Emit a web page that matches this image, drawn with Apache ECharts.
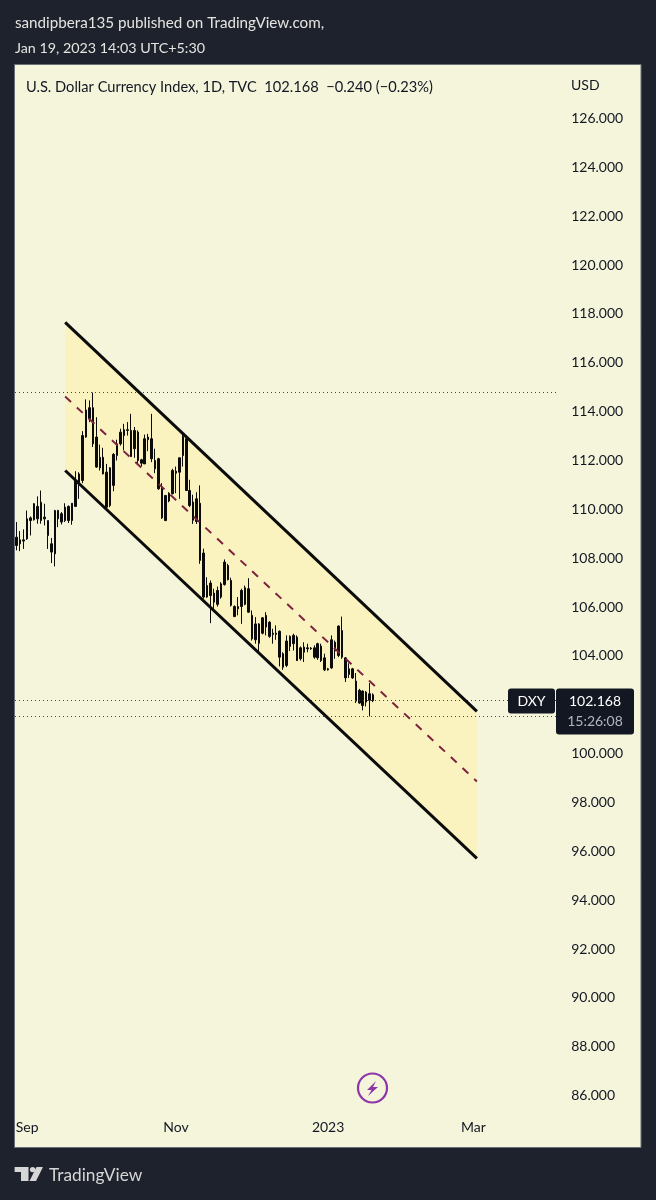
<!DOCTYPE html>
<html><head><meta charset="utf-8">
<style>html,body{margin:0;padding:0;background:#1e222d}#c{width:656px;height:1200px}</style>
<script src="https://cdn.jsdelivr.net/npm/echarts@6/dist/echarts.min.js"></script>
</head><body><div id="c"></div>
<script>
const categories = [
'2022-08-29','2022-08-30','2022-08-31',
'2022-09-01','2022-09-02','2022-09-05','2022-09-06','2022-09-07','2022-09-08','2022-09-09','2022-09-12','2022-09-13','2022-09-14','2022-09-15','2022-09-16','2022-09-19','2022-09-20','2022-09-21','2022-09-22','2022-09-23','2022-09-26','2022-09-27','2022-09-28','2022-09-29','2022-09-30',
'2022-10-03','2022-10-04','2022-10-05','2022-10-06','2022-10-07','2022-10-10','2022-10-11','2022-10-12','2022-10-13','2022-10-14','2022-10-17','2022-10-18','2022-10-19','2022-10-20','2022-10-21','2022-10-24','2022-10-25','2022-10-26','2022-10-27','2022-10-28','2022-10-31',
'2022-11-01','2022-11-02','2022-11-03','2022-11-04','2022-11-07','2022-11-08','2022-11-09','2022-11-10','2022-11-11','2022-11-14','2022-11-15','2022-11-16','2022-11-17','2022-11-18','2022-11-21','2022-11-22','2022-11-23','2022-11-24','2022-11-25','2022-11-28','2022-11-29','2022-11-30',
'2022-12-01','2022-12-02','2022-12-05','2022-12-06','2022-12-07','2022-12-08','2022-12-09','2022-12-12','2022-12-13','2022-12-14','2022-12-15','2022-12-16','2022-12-19','2022-12-20','2022-12-21','2022-12-22','2022-12-23','2022-12-26','2022-12-27','2022-12-28','2022-12-29','2022-12-30',
'2023-01-02','2023-01-03','2023-01-04','2023-01-05','2023-01-06','2023-01-09','2023-01-10','2023-01-11','2023-01-12','2023-01-13','2023-01-16','2023-01-17','2023-01-18','2023-01-19','2023-01-20','2023-01-23','2023-01-24','2023-01-25','2023-01-26','2023-01-27','2023-01-30','2023-01-31',
'2023-02-01','2023-02-02','2023-02-03','2023-02-06','2023-02-07','2023-02-08','2023-02-09','2023-02-10','2023-02-13','2023-02-14','2023-02-15','2023-02-16','2023-02-17','2023-02-20','2023-02-21','2023-02-22','2023-02-23','2023-02-24','2023-02-27','2023-02-28',
'2023-03-01','2023-03-02','2023-03-03','2023-03-06','2023-03-07','2023-03-08','2023-03-09','2023-03-10','2023-03-13','2023-03-14','2023-03-15','2023-03-16','2023-03-17','2023-03-20','2023-03-21','2023-03-22','2023-03-23','2023-03-24','2023-03-27','2023-03-28','2023-03-29','2023-03-30','2023-03-31',
'2023-04-03','2023-04-04'];
const opens = [108.86,108.59,108.75,108.79,109.54,109.57,110.12,109.54,109.68,109.54,108.59,108.18,109.95,109.48,109.54,110.12,109.54,110.12,111.45,111.18,112.96,113.71,114.16,112.96,111.70,112.13,111.52,110.16,110.98,112.20,112.68,113.26,113.26,113.23,112.48,113.16,111.89,111.86,112.85,112.89,112.00,112.07,110.91,109.54,110.34,110.64,111.48,111.52,112.20,112.89,110.77,109.55,110.43,110.25,108.21,106.41,106.98,106.57,106.11,106.41,106.92,107.70,107.09,106.02,105.93,106.02,106.79,106.75,105.66,104.66,104.52,105.56,105.18,105.38,104.88,104.93,105.01,103.54,103.61,104.39,104.84,104.77,103.88,104.15,104.33,104.32,104.33,103.92,104.40,103.92,103.47,103.51,104.56,104.02,105.04,103.92,103.24,103.47,102.97,102.07,102.56,102.11,102.45,102.41];
const closes = [108.52,108.75,108.70,109.61,109.65,110.23,109.61,110.29,109.61,108.93,108.25,109.95,109.61,109.82,110.09,109.54,110.25,111.18,111.11,113.02,114.07,114.16,112.68,111.73,112.13,111.45,110.09,111.70,112.25,112.68,113.16,113.02,113.23,112.16,113.23,112.00,112.03,112.89,112.96,112.07,111.66,110.84,109.65,110.57,110.66,111.59,111.56,112.11,112.98,110.77,110.16,110.30,109.50,107.91,106.41,106.88,106.47,106.20,106.68,106.95,107.84,107.12,106.07,105.61,106.02,106.68,106.11,105.79,104.70,105.31,105.31,104.93,105.66,104.80,104.93,104.88,103.95,104.09,104.61,104.80,104.50,103.81,104.33,104.36,104.29,104.29,103.95,104.50,103.81,103.43,103.43,104.66,104.20,105.22,103.95,103.10,103.47,103.10,102.15,102.59,101.97,102.52,102.18,102.168];
const lows = [108.32,108.29,108.38,108.75,108.93,109.54,109.41,109.41,109.34,108.38,107.80,107.66,109.27,109.38,109.48,109.44,109.37,110.12,110.43,111.07,112.93,113.57,112.55,111.70,111.59,111.43,110.06,110.09,110.74,112.00,112.61,112.41,113.02,112.14,112.11,111.84,111.75,111.86,112.38,111.93,111.48,110.80,109.61,109.52,110.29,110.61,110.66,110.43,111.75,110.77,110.09,109.40,109.40,107.77,106.34,106.38,105.34,105.86,106.02,106.34,106.88,107.09,106.02,105.59,105.66,105.31,106.07,105.77,104.63,104.50,104.11,104.88,104.84,104.74,104.50,104.66,103.57,103.43,103.54,104.20,104.22,103.79,103.81,103.75,104.15,104.25,103.88,103.84,103.75,103.38,103.40,103.47,103.88,103.95,103.88,102.93,103.10,103.06,102.07,102.04,101.77,101.93,101.52,102.11];
const highs = [109.48,109.11,109.18,109.95,109.71,110.25,110.53,110.77,110.23,109.54,108.83,109.98,109.98,109.89,110.25,110.16,110.25,111.56,111.52,113.20,114.50,114.46,114.78,113.77,112.65,112.52,111.86,111.73,112.30,112.85,113.30,113.50,113.57,113.91,113.37,113.23,112.07,113.06,113.09,113.91,112.48,112.11,111.07,110.57,110.70,111.66,111.75,112.11,113.09,113.02,111.21,110.60,110.70,110.98,108.39,107.22,107.09,106.75,106.84,107.02,107.95,107.77,107.20,106.07,106.41,106.75,106.88,107.18,105.86,105.59,105.34,105.59,105.79,105.42,105.11,105.25,105.04,104.15,104.84,104.84,104.91,104.84,104.39,104.56,104.50,104.36,104.43,104.54,104.50,104.09,103.51,104.84,104.63,105.25,105.61,103.95,103.70,103.51,103.30,102.65,102.59,102.56,102.89,102.47];
const tickDates = ['2022-09-01','2022-11-01','2023-01-02','2023-03-01'];
const tickLabels = ['Sep','Nov','2023','Mar'];
const channelX = [14,133];
const channelUpper = [117.65,101.73];
const channelMid = [114.62,98.86];
const channelLower = [111.59,95.71];
const levelLines = [114.78,102.168,101.52];

const FONT = 'Lato';
const txt = (x,y,text,size,fill,align) => ({type:'text',x,y,z:20,style:{text,fontFamily:FONT,fontSize:size,fill,align:align||'left',verticalAlign:'middle'}});
const lineSeries = (vals,style) => ({type:'line',z:5,silent:true,symbol:'none',lineStyle:style,
  data:channelX.map((x,i)=>[x,vals[i]]),animation:false});

const chart = echarts.init(document.getElementById('c'),null,{renderer:'canvas'});
chart.setOption({
  animation:false,
  backgroundColor:'#1e222d',
  grid:{left:15,top:69.6,width:543.2,height:1074.9,containLabel:false},
  xAxis:{type:'category',data:categories,boundaryGap:true,
    axisLine:{show:false},axisTick:{show:false},splitLine:{show:false},
    axisLabel:{inside:true,margin:10,color:'#131722',fontFamily:FONT,fontSize:14,
      interval:(i,v)=>tickDates.includes(v),
      formatter:v=>tickLabels[tickDates.indexOf(v)]}},
  yAxis:{type:'value',position:'right',min:84,max:128,interval:2,
    axisLine:{show:false},axisTick:{show:false},splitLine:{show:false},
    axisLabel:{margin:13,color:'#131722',fontFamily:FONT,fontSize:14,showMinLabel:false,showMaxLabel:false,
      formatter:v=>v.toFixed(3)}},
  graphic:[
    {type:'rect',z:-1,shape:{x:14.5,y:64.5,width:626.5,height:1083},style:{fill:'#f5f5dc',stroke:'#6b6f78',lineWidth:1}},
    txt(15,23,'sandipbera135 published on TradingView.com,',15.2,'#e4e4e0'),
    txt(15,48,'Jan 19, 2023 14:03 UTC+5:30',14.3,'#e4e4e0'),
    txt(26,87,'U.S. Dollar Currency Index, 1D, TVC  102.168  \u22120.240 (\u22120.23%)',14.65,'#131722'),
    txt(571,85,'USD',14,'#131722'),
    {type:'rect',z:18,shape:{x:508,y:688.5,width:47,height:25,r:3},style:{fill:'#131722'}},
    {type:'rect',z:18,shape:{x:556,y:688.5,width:78,height:46,r:3},style:{fill:'#131722'}},
    txt(531.5,701,'DXY',14,'#ffffff','center'),
    txt(595,701,'102.168',14,'#ffffff','center'),
    txt(595,721,'15:26:08',14,'#b2b5be','center'),
    {type:'circle',z:15,shape:{cx:372.5,cy:1088,r:14.5},style:{fill:'#f5f5dc',stroke:'#8e35a8',lineWidth:2.2}},
    {type:'polygon',z:16,shape:{points:[[376,1081],[367,1090],[371.5,1090],[368,1096],[378,1087],[373,1087]]},style:{fill:'#8e35a8'}},
    {type:'polygon',z:16,shape:{points:[[14.6,1167],[28.5,1167],[28.5,1181],[21,1181],[21,1172],[14.6,1172]]},style:{fill:'#d6d6d6'}},
    {type:'circle',z:16,shape:{cx:32.6,cy:1169.6,r:2.7},style:{fill:'#d6d6d6'}},
    {type:'polygon',z:16,shape:{points:[[36.5,1167],[43,1167],[36,1181],[29.5,1181]]},style:{fill:'#d6d6d6'}},
    txt(49,1175,'TradingView',17.3,'#d6d6d6')
  ],
  series:[
    {type:'custom',z:1,silent:true,coordinateSystem:'cartesian2d',data:[[channelX[0],channelUpper[0]]],
      renderItem:(p,api)=>({type:'polygon',
        shape:{points:[
          api.coord([channelX[0],channelUpper[0]]),api.coord([channelX[1],channelUpper[1]]),
          api.coord([channelX[1],channelLower[1]]),api.coord([channelX[0],channelLower[0]])]},
        style:{fill:'#fbf3bf'}})},
    {type:'candlestick',z:3,silent:true,barWidth:2,
      data:opens.map((o,i)=>[o,closes[i],lows[i],highs[i]]),
      itemStyle:{color:'#0b0b0b',color0:'#0b0b0b',borderColor:'#0b0b0b',borderColor0:'#0b0b0b',borderWidth:1},
      markLine:{silent:true,symbol:'none',label:{show:false},animation:false,
        lineStyle:{type:[1,3],color:'#444444',width:1},
        data:levelLines.map(v=>({yAxis:v}))}},
    lineSeries(channelUpper,{color:'#0b0b0b',width:3}),
    lineSeries(channelLower,{color:'#0b0b0b',width:3}),
    lineSeries(channelMid,{color:'#7d2340',width:2,type:[8,8]})
  ]
});
</script></body></html>
